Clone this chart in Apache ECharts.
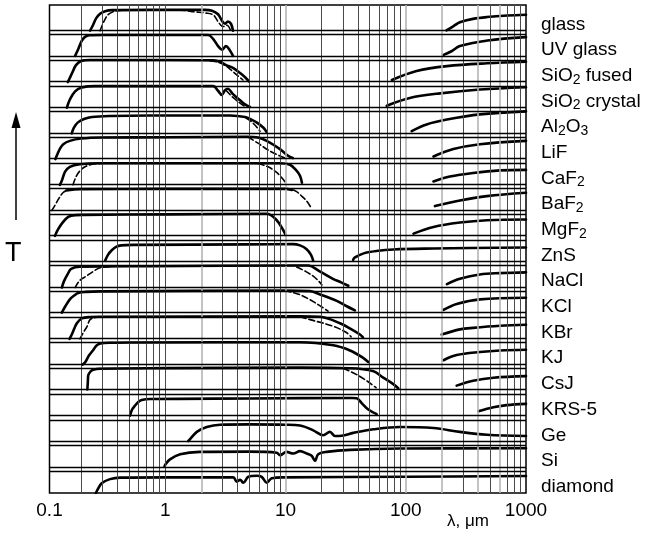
<!DOCTYPE html>
<html>
<head>
<meta charset="utf-8">
<script src="https://cdn.jsdelivr.net/npm/echarts@6/dist/echarts.min.js"></script>
<style>
  html, body { margin: 0; padding: 0; background: #fff; }
  #main { width: 648px; height: 537px; }
</style>
</head>
<body>
<div id="main"></div>
<script>
// materials, top to bottom
var materials = ['glass', 'UV glass', 'SiO2 fused', 'SiO2 crystal', 'Al2O3', 'LiF', 'CaF2', 'BaF2',
  'MgF2', 'ZnS', 'NaCl', 'KCl', 'KBr', 'KJ', 'CsJ', 'KRS-5', 'Ge', 'Si', 'diamond'];

// grid lines of the log scale (x = wavelength, um)
var decades = [0.1, 1, 10, 100];
var multipliers = [2, 3, 4, 5, 6, 7, 8, 9, 10];
var grayLines = [2, 10, 100, 200, 400, 600];

// [wavelength um, transmission as part of the row height]
var glassSolid = [[0.237,0],[0.251,0.22],[0.266,0.48],[0.287,0.66],[0.316,0.76],[0.361,0.8],[0.75,0.81],[1.6,0.81],[2.14,0.81],[2.45,0.78],[2.75,0.64],[2.97,0.38],[3.14,0.27],[3.32,0.36],[3.52,0.27],[3.66,0]];
var glassDash = [[0.287,0],[0.31,0.37],[0.334,0.62],[0.368,0.74],[0.421,0.79],[0.6,0.8],[1.33,0.8],[1.77,0.73],[2.14,0.69],[2.5,0.62],[2.75,0.35],[3.02,0.16],[3.26,0.21],[3.5,0]];
var glassFar = [[218,0.01],[250,0.18],[282,0.33],[362,0.46],[473,0.53],[700,0.59],[1000,0.62]];

var uvSolid = [[0.178,0.02],[0.19,0.31],[0.202,0.6],[0.215,0.76],[0.235,0.82],[0.3,0.83],[1,0.83],[2.27,0.83],[2.5,0.68],[2.75,0.4],[2.97,0.26],[3.2,0.4],[3.39,0.29],[3.66,0.02]];
var uvFar = [[204,0.05],[240,0.2],[282,0.4],[480,0.62],[1000,0.75]];

var fusedSolid = [[0.155,0],[0.168,0.35],[0.181,0.66],[0.2,0.82],[0.237,0.86],[1,0.86],[2.5,0.85],[2.85,0.79],[3.2,0.66],[3.66,0.55],[4.19,0.35],[4.61,0.19],[4.97,0.03]];
var fusedDash = [[2.36,0.82],[2.75,0.77],[3.14,0.65],[3.52,0.47],[3.95,0.27],[4.43,0.08]];
var fusedFar = [[76.7,0.08],[123,0.43],[220,0.62],[473,0.73],[1000,0.79]];

var crystalSolid = [[0.152,0],[0.161,0.32],[0.178,0.64],[0.203,0.79],[0.261,0.84],[1,0.84],[2.5,0.84],[2.75,0.66],[2.95,0.5],[3.14,0.68],[3.32,0.74],[3.66,0.53],[4.19,0.29],[4.61,0.13],[5.07,0.03]];
var crystalDash = [[3.2,0.68],[3.66,0.4],[4.27,0.15],[4.69,0.03]];
var crystalFar = [[69.5,0.08],[108,0.38],[193,0.56],[414,0.71],[1000,0.8]];

var al2o3Solid = [[0.167,0],[0.174,0.23],[0.188,0.43],[0.211,0.56],[0.246,0.64],[0.347,0.68],[0.747,0.7],[3.46,0.7],[4.61,0.64],[5.26,0.53],[5.79,0.42],[6.56,0.22],[6.95,0.06]];
var al2o3Dash = [[4.7,0.6],[5.16,0.47],[5.69,0.28],[6.14,0.08]];
var al2o3Far = [[112,0.09],[149,0.35],[220,0.54],[414,0.74],[1000,0.86]];

var lifSolid = [[0.122,0],[0.127,0.2],[0.133,0.4],[0.142,0.58],[0.161,0.71],[0.2,0.8],[0.3,0.84],[1,0.85],[4.76,0.87],[5.9,0.84],[6.98,0.71],[9,0.39],[10.5,0.13],[11.5,0.04]];
var lifDash = [[4.88,0.86],[5.91,0.62],[7.43,0.31],[9.9,0.04]];
var lifFar = [[170,0.1],[249,0.39],[414,0.58],[1000,0.71]];

var caf2Solid = [[0.133,0],[0.138,0.16],[0.147,0.51],[0.161,0.7],[0.195,0.8],[0.287,0.84],[9,0.84],[10.9,0.78],[12.2,0.58],[13.2,0.35],[13.7,0.08]];
var caf2DashLeft = [[0.171,0],[0.181,0.31],[0.195,0.54],[0.219,0.72],[0.261,0.82],[0.35,0.84]];
var caf2DashRight = [[5.91,0.83],[7.16,0.7],[8.49,0.47],[9.9,0.12]];
var caf2Far = [[170,0.13],[233,0.32],[363,0.46],[608,0.56],[1000,0.58]];

var baf2Dash = [[0.114,0],[0.121,0.2],[0.131,0.48],[0.141,0.69],[0.155,0.79],[0.195,0.83],[1,0.84],[9.9,0.84],[12,0.77],[13.7,0.55],[15.1,0.35],[16.3,0.11]];
var baf2Solid = [[0.15,0.78],[0.195,0.83],[1,0.84],[9.9,0.84],[11.3,0.8]];
var baf2Far = [[175,0.17],[282,0.39],[473,0.56],[1000,0.69]];

var mgf2Solid = [[0.121,0.01],[0.128,0.25],[0.138,0.49],[0.156,0.75],[0.18,0.82],[0.21,0.83],[1,0.85],[6.98,0.87],[8.45,0.62],[9.59,0.23],[10.0,0.05]];
var mgf2Far = [[116,0.1],[170,0.36],[282,0.53],[473,0.62],[1000,0.65]];

var znsSolid = [[0.316,0.04],[0.335,0.28],[0.359,0.45],[0.39,0.58],[0.43,0.64],[0.55,0.66],[5,0.68],[11.5,0.69],[13.2,0.64],[15,0.49],[16.3,0.27],[17,0.04]];
var znsFar = [[36.5,0.08],[37.8,0.17],[47.3,0.36],[78.8,0.48],[170,0.52],[1000,0.56]];

var naclSolid = [[0.138,0],[0.144,0.25],[0.156,0.56],[0.165,0.73],[0.195,0.81],[0.747,0.83],[13.2,0.86],[15.4,0.86],[19.4,0.62],[24.8,0.34],[29,0.2],[33.3,0.07]];
var naclDashLeft = [[0.178,0],[0.195,0.28],[0.222,0.45],[0.251,0.62],[0.287,0.77],[0.347,0.81]];
var naclDashRight = [[12.4,0.8],[14.8,0.62],[16.9,0.45],[18.6,0.28],[20.1,0.1]];
var naclFar = [[220,0.13],[282,0.34],[414,0.51],[608,0.56],[1000,0.59]];

var kclSolid = [[0.138,0.02],[0.148,0.28],[0.161,0.54],[0.175,0.69],[0.189,0.79],[0.22,0.83],[0.287,0.85],[9.6,0.88],[16,0.86],[19.4,0.73],[26.7,0.48],[32,0.28],[37.8,0.11]];
var kclDash = [[9.9,0.88],[13.2,0.72],[17.6,0.41],[22.6,0.08]];
var kclFar = [[206,0.13],[265,0.36],[414,0.54],[1000,0.6]];

var kbrSolid = [[0.16,0],[0.167,0.17],[0.184,0.61],[0.203,0.8],[0.237,0.85],[0.287,0.86],[13.2,0.88],[19.4,0.86],[28.4,0.61],[35.7,0.36],[41.6,0.17],[44.1,0.06]];
var kbrDashLeft = [[0.195,0],[0.208,0.24],[0.224,0.49],[0.237,0.75],[0.261,0.83],[0.316,0.86]];
var kbrDashRight = [[13.2,0.86],[16,0.75],[25,0.49],[32.3,0.24],[35.1,0.08]];
var kbrFar = [[199,0.17],[282,0.37],[363,0.43],[608,0.51],[1000,0.55]];

var kjSolid = [[0.205,0],[0.215,0.08],[0.232,0.35],[0.252,0.57],[0.27,0.75],[0.29,0.82],[0.35,0.85],[0.54,0.86],[13.2,0.87],[25,0.75],[34.4,0.55],[43,0.3],[48.8,0.1]];
var kjFar = [[206,0.17],[265,0.37],[414,0.49],[608,0.55],[1000,0.58]];

var csjSolid = [[0.225,0.03],[0.227,0.3],[0.229,0.58],[0.24,0.74],[0.252,0.8],[0.287,0.84],[1,0.86],[13.2,0.88],[34.4,0.86],[54,0.74],[65,0.49],[78.8,0.24],[86.7,0.08]];
var csjDash = [[30.3,0.86],[39.1,0.61],[47.3,0.37],[56.6,0.1]];
var csjFar = [[265,0.18],[363,0.37],[536,0.49],[1000,0.55]];

var krsSolid = [[0.509,0.01],[0.53,0.25],[0.56,0.4],[0.6,0.55],[0.637,0.62],[0.75,0.66],[5,0.68],[36,0.7],[39.1,0.69],[43,0.5],[48.8,0.25],[57.3,0.07]];
var krsFar = [[402,0.18],[536,0.34],[692,0.42],[1000,0.47]];

var geSolid = [[1.55,0.02],[1.61,0.1],[1.83,0.38],[2.21,0.57],[2.85,0.66],[5,0.67],[10,0.66],[13.2,0.63],[17,0.44],[20.6,0.25],[23.4,0.38],[25.8,0.22],[29.3,0.23],[36.6,0.34],[54,0.48],[89.5,0.57],[170,0.53],[282,0.38],[473,0.27],[1000,0.22]];

var siSolid = [[0.985,0.02],[1.0,0.1],[1.095,0.31],[1.33,0.51],[1.94,0.6],[5,0.61],[8.45,0.57],[9.0,0.47],[10.2,0.6],[11.6,0.54],[13.2,0.63],[15,0.54],[16.5,0.45],[17.6,0.25],[18.7,0.51],[22,0.6],[34.4,0.68],[89.5,0.73],[1000,0.74]];

var diamondSolid = [[0.265,0],[0.275,0.15],[0.296,0.38],[0.347,0.54],[0.421,0.6],[1,0.61],[3.68,0.61],[3.93,0.44],[4.19,0.51],[4.46,0.4],[4.91,0.63],[5.76,0.67],[6.34,0.63],[6.98,0.4],[7.68,0.57],[9.59,0.61],[100,0.63],[1000,0.66]];

// row index (0 = glass at the top), data, dashed?
var curves = [
  [0, glassSolid, false], [0, glassDash, true], [0, glassFar, false],
  [1, uvSolid, false], [1, uvFar, false],
  [2, fusedSolid, false], [2, fusedDash, true], [2, fusedFar, false],
  [3, crystalSolid, false], [3, crystalDash, true], [3, crystalFar, false],
  [4, al2o3Solid, false], [4, al2o3Dash, true], [4, al2o3Far, false],
  [5, lifSolid, false], [5, lifDash, true], [5, lifFar, false],
  [6, caf2Solid, false], [6, caf2DashLeft, true], [6, caf2DashRight, true], [6, caf2Far, false],
  [7, baf2Dash, true], [7, baf2Solid, false], [7, baf2Far, false],
  [8, mgf2Solid, false], [8, mgf2Far, false],
  [9, znsSolid, false], [9, znsFar, false],
  [10, naclSolid, false], [10, naclDashLeft, true], [10, naclDashRight, true], [10, naclFar, false],
  [11, kclSolid, false], [11, kclDash, true], [11, kclFar, false],
  [12, kbrSolid, false], [12, kbrDashLeft, true], [12, kbrDashRight, true], [12, kbrFar, false],
  [13, kjSolid, false], [13, kjFar, false],
  [14, csjSolid, false], [14, csjDash, true], [14, csjFar, false],
  [15, krsSolid, false], [15, krsFar, false],
  [16, geSolid, false],
  [17, siSolid, false],
  [18, diamondSolid, false]
];

var nRows = materials.length;
var FONT = 'Liberation Sans, Arial, sans-serif';

var chart = echarts.init(document.getElementById('main'));

// vertical grid lines
var vLines = [];
decades.forEach(function (d) {
  multipliers.forEach(function (m) {
    var v = +(d * m).toPrecision(3);
    if (v >= 1000) return;
    var gray = grayLines.indexOf(v) >= 0;
    vLines.push({
      xAxis: v,
      lineStyle: { color: gray ? '#b4b4b4' : '#4a4a4a', width: gray ? 1.6 : 1, type: 'solid' }
    });
  });
});

// horizontal lines: row baseline + top line of the next row
var hLines = [];
for (var r = 0; r < nRows - 1; r++) {
  var b = nRows - 1 - r;
  hLines.push({ yAxis: b + 0.02 });
  hLines.push({ yAxis: b - 0.15 });
}

var series = [{
  type: 'line',
  data: [],
  z: 1,
  silent: true,
  markLine: {
    silent: true,
    symbol: ['none', 'none'],
    label: { show: false },
    animation: false,
    data: vLines
  }
}, {
  type: 'line',
  data: [],
  z: 2,
  silent: true,
  markLine: {
    silent: true,
    symbol: ['none', 'none'],
    label: { show: false },
    animation: false,
    lineStyle: { color: '#000', width: 1.3, type: 'solid' },
    data: hLines
  }
}];

curves.forEach(function (c) {
  var base = nRows - 1 - c[0];
  series.push({
    type: 'line',
    z: 3,
    showSymbol: false,
    smooth: 0.35,
    silent: true,
    lineStyle: {
      color: '#000',
      width: c[2] ? 1.6 : 2.6,
      type: c[2] ? [6, 3] : 'solid',
      cap: 'round',
      join: 'round'
    },
    data: c[1].map(function (p) { return [p[0], base + p[1]]; })
  });
});

function richName(name) {
  var out = '';
  var parts = name.split(/(\d)/);
  parts.forEach(function (p, i) {
    if (p === '') return;
    var isSub = /^\d$/.test(p) && i > 0 && /[A-Za-z]$/.test(parts[i - 1]);
    out += isSub ? '{s|' + p + '}' : '{n|' + p + '}';
  });
  return out;
}

var option = {
  backgroundColor: '#fff',
  animation: false,
  grid: {
    left: 49.5, right: 122, top: 5, bottom: 44,
    show: true, borderColor: '#000', borderWidth: 1.5, backgroundColor: 'transparent'
  },
  xAxis: {
    type: 'log',
    logBase: 10,
    min: 0.109,
    max: 1000,
    axisLine: { show: false },
    axisTick: { show: false },
    splitLine: { show: false },
    minorTick: { show: false },
    axisLabel: {
      color: '#000',
      fontSize: 19,
      fontFamily: FONT,
      margin: 8,
      formatter: function (v) { return v < 0.5 ? '0.1' : String(Math.round(v)); }
    }
  },
  yAxis: [{
    type: 'value',
    min: 0,
    max: nRows,
    show: false
  }, {
    type: 'category',
    position: 'right',
    inverse: true,
    data: materials,
    axisLine: { show: false },
    axisTick: { show: false },
    splitLine: { show: false },
    axisLabel: {
      margin: 15,
      color: '#000',
      padding: [13, 0, 0, 0],
      formatter: richName,
      rich: {
        n: { fontSize: 19, fontFamily: FONT, color: '#000', lineHeight: 22 },
        s: { fontSize: 14, fontFamily: FONT, color: '#000', lineHeight: 8, verticalAlign: 'bottom' }
      }
    }
  }],
  graphic: [
    { type: 'line', shape: { x1: 16, y1: 220, x2: 16, y2: 126 }, style: { stroke: '#000', lineWidth: 1.5 } },
    { type: 'polygon', shape: { points: [[16, 112], [11.5, 128], [20.5, 128]] }, style: { fill: '#000' } },
    { type: 'text', left: 5, top: 240, style: { text: 'T', font: '27px ' + FONT, fill: '#000' } },
    { type: 'text', left: 447, top: 513, style: { text: 'λ, μm', font: '17px ' + FONT, fill: '#000' } }
  ],
  series: series
};

chart.setOption(option);
</script>
</body>
</html>
